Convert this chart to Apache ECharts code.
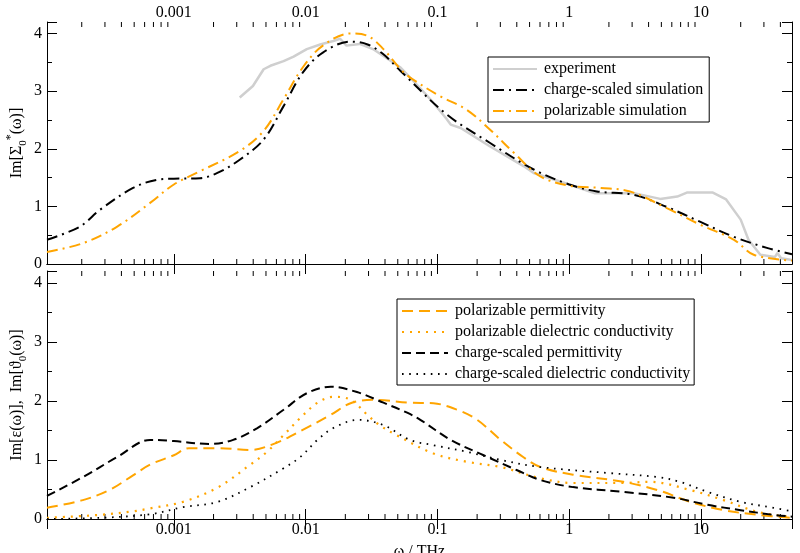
<!DOCTYPE html>
<html>
<head>
<meta charset="utf-8">
<script src="https://cdn.jsdelivr.net/npm/echarts@6/dist/echarts.min.js"></script>
<style>html,body{margin:0;padding:0;background:#fff;}#c{width:800px;height:553px;}</style>
</head>
<body>
<div id="c"></div>
<script>
// ---------- data (ω in THz) ----------
const xTickLabels = ['0.001', '0.01', '0.1', '1', '10'];
const yTickLabels = ['0', '1', '2', '3', '4'];

// top panel
const expX = [3.16e-3, 3.98e-3, 4.8e-3, 5.4e-3, 6.8e-3, 8.1e-3, 0.0102, 0.0129, 0.0162, 0.0182, 0.0204, 0.0257, 0.0324, 0.0525, 0.0741, 0.093, 0.117, 0.126, 0.15, 0.251, 0.45, 0.537, 1, 1.55, 3.09, 4.9, 6.6, 7.8, 12.3, 15.5, 20, 22.9, 28.2, 36.3, 38, 40.5, 49];
const expY = [2.89, 3.09, 3.38, 3.44, 3.52, 3.60, 3.73, 3.81, 3.87, 3.91, 3.79, 3.82, 3.73, 3.41, 3.05, 2.80, 2.52, 2.42, 2.36, 2.04, 1.70, 1.58, 1.38, 1.23, 1.23, 1.13, 1.17, 1.24, 1.24, 1.12, 0.77, 0.42, 0.16, 0.12, 0.19, 0.10, 0.07];

const csSimX = [1.09e-4, 1.94e-4, 2.75e-4, 4.9e-4, 7.4e-4, 1e-3, 1.58e-3, 2.14e-3, 3.16e-3, 4.8e-3, 6.8e-3, 9.5e-3, 0.0135, 0.0219, 0.0295, 0.0389, 0.0525, 0.117, 0.251, 0.537, 1, 1.62, 3.09, 5.5, 9.9, 17.8, 31.6, 49];
const csSimY = [0.42, 0.65, 0.94, 1.32, 1.46, 1.48, 1.49, 1.58, 1.81, 2.16, 2.74, 3.32, 3.67, 3.86, 3.81, 3.64, 3.35, 2.60, 2.10, 1.64, 1.38, 1.26, 1.20, 0.99, 0.73, 0.47, 0.28, 0.17];

const polSimX = [1.09e-4, 2.04e-4, 3.72e-4, 6.6e-4, 1e-3, 1.58e-3, 3.16e-3, 4.8e-3, 6.8e-3, 9.5e-3, 0.0135, 0.0219, 0.0295, 0.0389, 0.0525, 0.0617, 0.105, 0.166, 0.251, 0.38, 0.603, 1, 1.74, 2.88, 5.5, 9.9, 17.8, 25.1, 49];
const polSimY = [0.21, 0.36, 0.65, 1.06, 1.38, 1.61, 1.96, 2.31, 2.86, 3.41, 3.79, 4.0, 3.96, 3.73, 3.38, 3.24, 2.91, 2.68, 2.33, 1.93, 1.52, 1.36, 1.32, 1.26, 0.97, 0.68, 0.42, 0.16, 0.06];

// bottom panel
const polPermX = [1.09e-4, 2.04e-4, 3.24e-4, 4.9e-4, 6.6e-4, 1e-3, 1.3e-3, 2.14e-3, 3.8e-3, 6e-3, 9.5e-3, 0.0154, 0.0219, 0.032, 0.062, 0.0933, 0.141, 0.2, 0.302, 0.447, 0.603, 1.07, 2.57, 4.68, 8.3, 14.8, 27, 49];
const polPermY = [0.19, 0.32, 0.49, 0.74, 0.92, 1.08, 1.20, 1.20, 1.17, 1.29, 1.51, 1.76, 1.96, 2.02, 1.97, 1.96, 1.85, 1.68, 1.34, 1.05, 0.88, 0.75, 0.63, 0.49, 0.29, 0.15, 0.07, 0.02];

const polCondX = [1.09e-4, 2.75e-4, 4.9e-4, 6.6e-4, 1.17e-3, 2.14e-3, 3.8e-3, 5.1e-3, 6.8e-3, 9.1e-3, 0.0123, 0.0162, 0.0219, 0.0295, 0.0363, 0.049, 0.0933, 0.166, 0.302, 0.603, 1.07, 2.57, 4.07, 8.3, 14.8, 26.9, 49];
const polCondY = [0.02, 0.07, 0.13, 0.18, 0.29, 0.53, 0.92, 1.14, 1.42, 1.71, 1.97, 2.07, 2.02, 1.76, 1.59, 1.42, 1.11, 0.97, 0.88, 0.69, 0.61, 0.61, 0.63, 0.49, 0.32, 0.12, 0.03];

const csPermX = [1.09e-4, 2.04e-4, 3.72e-4, 6.6e-4, 1e-3, 1.87e-3, 2.82e-3, 4.3e-3, 6.8e-3, 0.0102, 0.0155, 0.0245, 0.0389, 0.0589, 0.0741, 0.126, 0.224, 0.398, 0.603, 1.07, 2.57, 6.2, 11.2, 20, 35.5, 49];
const csPermY = [0.39, 0.71, 1.05, 1.34, 1.32, 1.27, 1.34, 1.54, 1.85, 2.13, 2.24, 2.15, 1.97, 1.80, 1.68, 1.34, 1.08, 0.83, 0.66, 0.54, 0.46, 0.36, 0.24, 0.15, 0.07, 0.04];

const csCondX = [1.09e-4, 2.75e-4, 6.6e-4, 1.17e-3, 2.14e-3, 3.8e-3, 6.8e-3, 9.1e-3, 0.0123, 0.0162, 0.025, 0.0389, 0.0617, 0.0933, 0.166, 0.302, 0.603, 1.95, 4.68, 6.9, 11.2, 20, 35.5, 49];
const csCondY = [0.0, 0.02, 0.08, 0.2, 0.29, 0.54, 0.86, 1.05, 1.34, 1.54, 1.68, 1.59, 1.34, 1.25, 1.14, 1.0, 0.88, 0.78, 0.71, 0.63, 0.46, 0.29, 0.19, 0.13];

// ---------- chart ----------
const FONT = 'Liberation Serif';
const FS = 16;
const ORANGE = '#ffa500';
const XMIN = 1.09e-4, XMAX = 49;
const pairs = (xs, ys) => xs.map((x, i) => [x, ys[i]]);

function xAxisDef(gridIndex, position, showLabel, extra) {
  return Object.assign({
    type: 'log', logBase: 10, gridIndex, position, min: XMIN, max: XMAX,
    axisLine: { show: true, lineStyle: { color: '#000', width: 1 } },
    axisTick: { show: true, inside: true, length: 10, lineStyle: { color: '#000' } },
    axisLabel: {
      show: showLabel, margin: position === 'top' ? 1 : 3, color: '#000', fontFamily: FONT, fontSize: FS,
      showMinLabel: false, showMaxLabel: false,
      formatter: v => { const s = String(parseFloat(Number(v).toPrecision(6))); return xTickLabels.includes(s) ? s : ''; }
    },
    splitLine: { show: false }, minorTick: { show: false }
  }, extra || {});
}
function yAxisDef(gridIndex, position, showLabel, extra) {
  return Object.assign({
    type: 'value', gridIndex, position, min: 0, max: 4.2, interval: 1,
    axisLine: { show: true, lineStyle: { color: '#000', width: 1 } },
    axisTick: { show: true, inside: true, length: 10, lineStyle: { color: '#000' } },
    minorTick: { show: true, splitNumber: 2, length: 5, lineStyle: { color: '#000' } },
    axisLabel: {
      show: showLabel, margin: 5, color: '#000', fontFamily: FONT, fontSize: FS,
      showMaxLabel: false,
      formatter: v => { const s = String(v); return yTickLabels.includes(s) ? s : ''; }
    },
    splitLine: { show: false }
  }, extra || {});
}

const nameRich = {
  a: { fontFamily: FONT, fontSize: FS, color: '#000', lineHeight: 24 },
  sub: { fontFamily: FONT, fontSize: 11, color: '#000', lineHeight: 24, verticalAlign: 'bottom' },
  sup: { fontFamily: FONT, fontSize: 12, color: '#000', lineHeight: 24, verticalAlign: 'top' }
};

function lineSeries(name, xs, ys, xi, yi, color, type, width, smooth) {
  return {
    name, type: 'line', xAxisIndex: xi, yAxisIndex: yi, data: pairs(xs, ys),
    showSymbol: false, symbol: 'none', smooth: smooth, clip: true,
    lineStyle: { color, width, type, cap: 'butt' }, itemStyle: { color },
    emphasis: { disabled: true }
  };
}

const legendCommon = {
  orient: 'vertical', borderColor: '#000', borderWidth: 1,
  itemHeight: 12, selectedMode: false, backgroundColor: '#fff', borderRadius: 0,
  itemStyle: { opacity: 0 },
  textStyle: { fontFamily: FONT, fontSize: FS, color: '#000', padding: [0, 0, 0, 2] }
};

const chart = echarts.init(document.getElementById('c'), null, { renderer: 'canvas' });
const option = {
  animation: false,
  backgroundColor: '#fff',
  grid: [
    { left: 47, right: 8, top: 22, height: 242, containLabel: false, outerBoundsMode: 'none' },
    { left: 47, right: 8, top: 271, height: 248, containLabel: false, outerBoundsMode: 'none' }
  ],
  xAxis: [
    xAxisDef(0, 'top', true),
    xAxisDef(0, 'bottom', false),
    xAxisDef(1, 'top', false),
    xAxisDef(1, 'bottom', true, {
      name: 'ω / THz', nameLocation: 'middle', nameGap: 25,
      nameTextStyle: { fontFamily: FONT, fontSize: FS, color: '#000' }
    })
  ],
  yAxis: [
    yAxisDef(0, 'left', true, {
      name: '{a|Im[Σ}{sub|0}{sup|*}{a|(ω)]}', nameLocation: 'middle', nameGap: 18,
      nameMoveOverlap: false,
      nameTextStyle: { rich: nameRich }
    }),
    yAxisDef(0, 'right', false),
    yAxisDef(1, 'left', true, {
      name: '{a|Im[ε(ω)],  Im[ϑ}{sub|0}{a|(ω)]}', nameLocation: 'middle', nameGap: 18,
      nameMoveOverlap: false,
      nameTextStyle: { rich: nameRich }
    }),
    yAxisDef(1, 'right', false)
  ],
  legend: [
    Object.assign({}, legendCommon, {
      data: ['experiment', 'charge-scaled simulation', 'polarizable simulation'],
      left: 488, top: 57, padding: [4, 6, 3, 4],
      itemWidth: 44, itemGap: 5
    }),
    Object.assign({}, legendCommon, {
      data: ['polarizable permittivity', 'polarizable dielectric conductivity', 'charge-scaled permittivity', 'charge-scaled dielectric conductivity'],
      left: 397, top: 299, padding: [4, 4, 3, 4],
      itemWidth: 46, itemGap: 5
    })
  ],
  series: [
    lineSeries('experiment', expX, expY, 0, 0, '#cfcfcf', 'solid', 2.5, false),
    lineSeries('charge-scaled simulation', csSimX, csSimY, 0, 0, '#000', [11, 5, 2, 5], 2, 0.35),
    lineSeries('polarizable simulation', polSimX, polSimY, 0, 0, ORANGE, [11, 5, 2, 5], 2, 0.35),
    lineSeries('polarizable permittivity', polPermX, polPermY, 3, 2, ORANGE, [11, 6], 2, 0.35),
    lineSeries('polarizable dielectric conductivity', polCondX, polCondY, 3, 2, ORANGE, [2, 6], 2.2, 0.35),
    lineSeries('charge-scaled permittivity', csPermX, csPermY, 3, 2, '#000', [9, 5], 2, 0.35),
    lineSeries('charge-scaled dielectric conductivity', csCondX, csCondY, 3, 2, '#000', [1.6, 5.6], 1.8, 0.35)
  ]
};
chart.setOption(option);

// minor log ticks (2..9 of every decade) placed through the axis scale
const graphics = [];
const gridEdges = [
  { xi: 0, y: 22, dir: 1 }, { xi: 1, y: 264, dir: -1 },
  { xi: 2, y: 271, dir: 1 }, { xi: 3, y: 519, dir: -1 }
];
for (let d = -4; d <= 1; d++) {
  for (let m = 2; m <= 9; m++) {
    const v = m * Math.pow(10, d);
    if (v <= XMIN || v >= XMAX) continue;
    gridEdges.forEach(e => {
      const px = chart.convertToPixel({ xAxisIndex: e.xi }, v);
      graphics.push({
        type: 'line', silent: true,
        shape: { x1: px, y1: e.y, x2: px, y2: e.y + e.dir * 5 },
        style: { stroke: '#000', lineWidth: 1 }
      });
    });
  }
}
chart.setOption({ graphic: graphics });
</script>
</body>
</html>
